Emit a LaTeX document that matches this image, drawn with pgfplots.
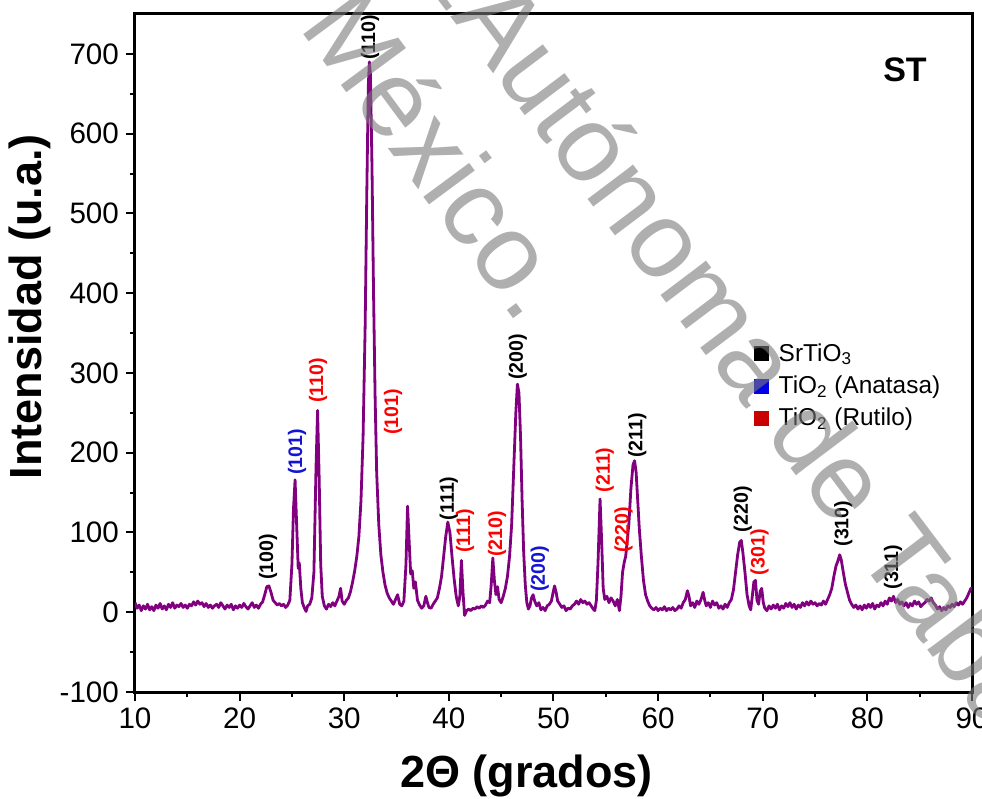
\documentclass[border=0pt]{standalone}
\usepackage{pgfplots}
\pgfplotsset{compat=1.18}
\usepackage{fontspec}
\setmainfont{Liberation Sans}
\definecolor{xrd}{RGB}{128,0,128}
\definecolor{lblred}{RGB}{255,0,0}
\definecolor{lblblue}{RGB}{20,20,210}
\definecolor{legred}{RGB}{200,0,0}
\definecolor{legblue}{RGB}{0,0,230}
\newcommand{\pk}[4]{\node[rotate=90,anchor=west,inner sep=0pt,text=#4,font=\fontsize{9.8}{11}\selectfont\bfseries] at (axis cs:#1,#2) {#3};}
\begin{document}
\begin{tikzpicture}
\begin{axis}[
  scale only axis, width=418.5pt, height=339pt,
  xmin=10, xmax=90, ymin=-100, ymax=750,
  xtick={10,20,...,90}, ytick={-100,0,...,700},
  minor xtick={15,25,...,85}, minor ytick={-50,50,...,650},
  xtick pos=bottom, ytick pos=left,
  tick align=outside, major tick length=4.5pt, minor tick length=2.5pt,
  every tick/.style={line width=1pt, black},
  axis line style={line width=1.5pt},
  /pgf/number format/assume math mode=true,
  ticklabel style={font=\fontsize{14.8}{17}\selectfont},
  xlabel={2Θ (grados)}, ylabel={Intensidad (u.a.)},
  label style={font=\fontsize{22.5}{26}\selectfont\bfseries},
  xlabel style={at={(axis description cs:0.468,0)}, anchor=center, yshift=-42pt},
  ylabel style={at={(axis description cs:-0.1254,0.568)}, anchor=center, rotate=0},
  clip mode=individual,
  legend style={at={(axis description cs:0.739,0.522)}, anchor=north west, draw=none, fill=none,
    font=\fontsize{12.2}{14}\selectfont, row sep=0.8pt, inner sep=0pt,
    nodes={inner sep=2.5pt},
    /tikz/every odd column/.append style={column sep=2.5pt}},
  legend cell align=left,
]
\addlegendimage{legend image code/.code={\fill[black] (0pt,-3.5pt) rectangle (7pt,3.5pt);}}
\addlegendentry{SrTiO\textsubscript{3}}
\addlegendimage{legend image code/.code={\fill[legblue] (0pt,-3.5pt) rectangle (7pt,3.5pt);}}
\addlegendentry{TiO\textsubscript{2} (Anatasa)}
\addlegendimage{legend image code/.code={\fill[legred] (0pt,-3.5pt) rectangle (7pt,3.5pt);}}
\addlegendentry{TiO\textsubscript{2} (Rutilo)}
\addplot[xrd, line width=1.4pt, line join=round, forget plot] coordinates {
(10.0,12) (10.2,5) (10.4,9) (10.6,2) (10.8,8) (11.0,4) (11.2,10) (11.4,3) (11.6,7) (11.8,2)
(12.0,9) (12.2,5) (12.4,11) (12.6,4) (12.8,8) (13.0,3) (13.2,10) (13.4,6) (13.6,12) (13.8,5)
(14.0,9) (14.2,7) (14.4,11) (14.6,6) (14.8,9) (15.0,5) (15.2,10) (15.4,8) (15.6,13) (15.8,9)
(16.0,14) (16.2,10) (16.4,12) (16.6,7) (16.8,11) (17.0,6) (17.2,9) (17.4,5) (17.6,8) (17.8,10)
(18.0,6) (18.2,12) (18.4,8) (18.6,4) (18.8,9) (19.0,6) (19.2,10) (19.4,3) (19.6,8) (19.8,5)
(20.0,9) (20.2,6) (20.4,11) (20.6,7) (20.8,4) (21.0,8) (21.2,12) (21.4,6) (21.6,9) (21.8,5)
(22.0,10) (22.2,13) (22.4,22) (22.6,32) (22.8,33) (23.0,25) (23.2,15) (23.4,12) (23.6,9) (23.8,11)
(24.0,8) (24.2,10) (24.4,6) (24.6,9) (24.8,15) (25.0,60) (25.15,130) (25.3,166) (25.45,110) (25.6,55)
(25.7,62) (25.85,30) (26.0,12) (26.2,5) (26.35,1) (26.5,8) (26.7,10) (26.9,18) (27.1,50) (27.3,180)
(27.45,253) (27.6,170) (27.75,60) (27.9,20) (28.1,8) (28.3,4) (28.5,10) (28.7,7) (28.9,12) (29.1,8)
(29.3,14) (29.5,20) (29.65,30) (29.8,14) (30.0,10) (30.2,15) (30.4,18) (30.6,26) (30.8,38) (31.0,52)
(31.2,70) (31.4,95) (31.6,140) (31.8,220) (32.0,360) (32.15,520) (32.3,660) (32.4,690) (32.5,675) (32.65,560)
(32.8,400) (32.95,270) (33.1,175) (33.3,110) (33.5,72) (33.7,50) (33.9,34) (34.1,24) (34.3,18) (34.5,14)
(34.7,10) (34.9,16) (35.1,22) (35.3,10) (35.5,8) (35.7,14) (35.9,60) (36.05,133) (36.2,90) (36.35,48)
(36.5,52) (36.65,30) (36.8,38) (37.0,15) (37.2,9) (37.4,5) (37.6,8) (37.8,20) (37.95,12) (38.1,6)
(38.3,5) (38.5,10) (38.7,14) (38.9,18) (39.1,30) (39.3,45) (39.5,70) (39.7,95) (39.9,113) (40.1,100)
(40.3,70) (40.5,42) (40.7,20) (40.9,8) (41.05,20) (41.2,65) (41.35,25) (41.5,-4) (41.7,2) (41.9,4)
(42.1,2) (42.3,5) (42.5,4) (42.7,7) (42.9,5) (43.1,8) (43.3,6) (43.5,9) (43.7,14) (43.9,12)
(44.05,35) (44.2,68) (44.35,40) (44.5,22) (44.65,32) (44.8,16) (45.0,12) (45.2,20) (45.4,30) (45.6,45)
(45.8,70) (46.0,110) (46.2,180) (46.4,250) (46.55,286) (46.7,275) (46.85,220) (47.0,140) (47.15,75) (47.3,35)
(47.45,12) (47.6,4) (47.75,8) (47.9,18) (48.05,22) (48.2,14) (48.4,8) (48.6,12) (48.8,3) (49.0,6)
(49.2,2) (49.4,8) (49.6,10) (49.8,14) (49.95,24) (50.1,33) (50.25,25) (50.4,14) (50.6,10) (50.8,6)
(51.0,8) (51.2,2) (51.4,5) (51.6,4) (51.8,8) (52.0,10) (52.2,14) (52.4,10) (52.6,16) (52.8,12)
(53.0,14) (53.2,10) (53.4,12) (53.6,8) (53.8,4) (53.95,2) (54.1,15) (54.25,60) (54.45,142) (54.6,90)
(54.75,30) (54.9,16) (55.1,20) (55.3,12) (55.5,18) (55.7,14) (55.9,8) (56.1,16) (56.3,2) (56.45,20)
(56.6,50) (56.75,62) (56.9,70) (57.05,90) (57.2,110) (57.4,155) (57.6,185) (57.75,190) (57.9,175) (58.05,140)
(58.2,105) (58.4,70) (58.6,40) (58.8,22) (59.0,14) (59.2,8) (59.4,5) (59.6,3) (59.8,6) (60.0,2)
(60.2,5) (60.4,3) (60.6,7) (60.8,2) (61.0,5) (61.2,3) (61.4,6) (61.6,2) (61.8,4) (62.0,8)
(62.2,5) (62.4,12) (62.6,16) (62.8,27) (62.95,20) (63.1,8) (63.3,12) (63.5,6) (63.7,14) (63.9,10)
(64.1,16) (64.3,25) (64.45,15) (64.6,8) (64.8,12) (65.0,6) (65.2,14) (65.4,9) (65.6,12) (65.8,5)
(66.0,8) (66.2,4) (66.4,10) (66.6,6) (66.8,12) (67.0,16) (67.2,28) (67.4,50) (67.6,72) (67.8,88)
(67.95,90) (68.1,75) (68.3,50) (68.5,22) (68.7,8) (68.85,3) (69.0,20) (69.15,38) (69.3,40) (69.45,15)
(69.6,10) (69.75,26) (69.9,30) (70.05,12) (70.2,5) (70.4,2) (70.6,8) (70.8,4) (71.0,9) (71.2,5)
(71.4,10) (71.6,3) (71.8,8) (72.0,5) (72.2,11) (72.4,7) (72.6,12) (72.8,6) (73.0,10) (73.2,4)
(73.4,9) (73.6,6) (73.8,12) (74.0,8) (74.2,13) (74.4,9) (74.6,14) (74.8,10) (75.0,12) (75.2,8)
(75.4,11) (75.6,9) (75.8,14) (76.0,10) (76.2,16) (76.4,22) (76.6,30) (76.8,45) (77.0,58) (77.2,65)
(77.35,72) (77.5,66) (77.7,50) (77.9,35) (78.1,25) (78.3,15) (78.5,10) (78.7,6) (78.9,9) (79.1,4)
(79.3,8) (79.5,3) (79.7,9) (79.9,5) (80.1,10) (80.3,6) (80.5,11) (80.7,4) (80.9,9) (81.1,7)
(81.3,12) (81.5,8) (81.7,14) (81.9,10) (82.1,18) (82.3,14) (82.5,20) (82.7,12) (82.9,16) (83.1,10)
(83.3,13) (83.5,8) (83.7,12) (83.9,6) (84.1,11) (84.3,8) (84.5,14) (84.7,10) (84.9,13) (85.1,7)
(85.3,10) (85.5,12) (85.7,16) (85.9,14) (86.1,18) (86.3,12) (86.5,9) (86.7,4) (86.9,7) (87.1,2)
(87.3,6) (87.5,3) (87.7,8) (87.9,6) (88.1,10) (88.3,7) (88.5,12) (88.7,9) (88.9,13) (89.1,10)
(89.3,14) (89.5,18) (89.7,24) (89.9,30) (90.0,28)
};
\pk{22.71}{40}{(100)}{black}
\pk{25.48}{172}{(101)}{lblblue}
\pk{27.49}{262}{(110)}{lblred}
\pk{32.46}{692}{(110)}{black}
\pk{34.66}{222}{(101)}{lblred}
\pk{40.0}{115}{(111)}{black}
\pk{41.54}{74}{(111)}{lblred}
\pk{44.6}{69}{(210)}{lblred}
\pk{46.6}{291}{(200)}{black}
\pk{48.7}{25}{(200)}{lblblue}
\pk{54.9}{150}{(211)}{lblred}
\pk{56.7}{74}{(220)}{lblred}
\pk{58.0}{193}{(211)}{black}
\pk{68.1}{100}{(220)}{black}
\pk{69.7}{46}{(301)}{lblred}
\pk{77.7}{82}{(310)}{black}
\pk{82.45}{28}{(311)}{black}
\node[font=\fontsize{17}{20}\selectfont\bfseries] at (axis cs:83.6,679.5) {ST};
\coordinate (bbsw) at (axis cs:-2.903,-232.9);
\coordinate (bbne) at (axis cs:90.956,767.55);
\coordinate (wma) at (axis cs:40.1,747.5);
\coordinate (wmb) at (axis cs:25.6,734);
\end{axis}
\begin{scope}
\clip (bbsw) rectangle (bbne);
\begin{scope}[opacity=0.6]
\node[rotate=-53, anchor=base west, inner sep=0pt, text=black!52, font=\fontsize{54}{58}\selectfont] at (wma) {Autónoma de Tabasco.};
\node[rotate=-53, anchor=base east, inner sep=0pt, text=black!52, font=\fontsize{54}{58}\selectfont] at (wma) {Universidad Juárez\ };
\node[rotate=-53.5, anchor=base west, inner sep=0pt, text=black!52, font=\fontsize{54}{58}\selectfont] at (wmb) {México.};
\end{scope}
\end{scope}
\pgfresetboundingbox
\useasboundingbox (bbsw) rectangle (bbne);
\end{tikzpicture}
\end{document}
